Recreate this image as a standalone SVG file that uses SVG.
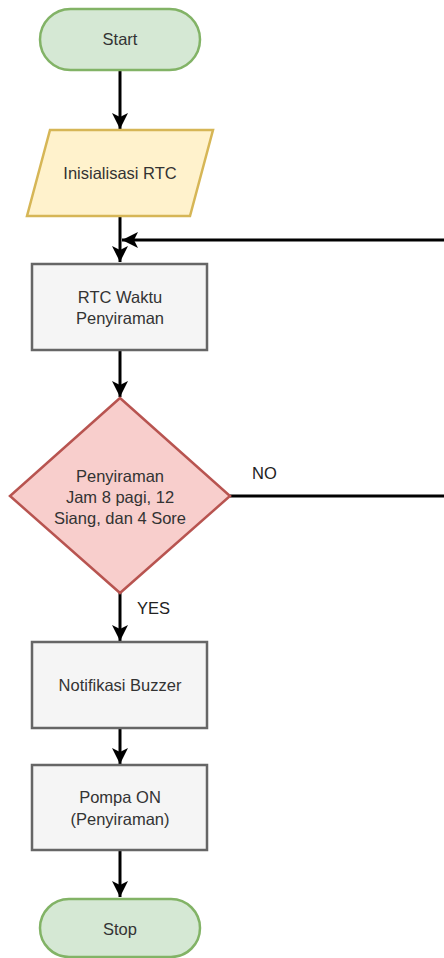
<svg xmlns="http://www.w3.org/2000/svg" width="444" height="958" viewBox="0 0 444 958">
<style>
text{font-family:"Liberation Sans",Arial,sans-serif;font-size:16.5px;fill:#333333;text-anchor:middle}
.term{fill:#d5e8d4;stroke:#82b366;stroke-width:2.5}
.io{fill:#fff2cc;stroke:#d6b656;stroke-width:2.5}
.proc{fill:#f5f5f5;stroke:#666666;stroke-width:2.5}
.dec{fill:#f8cecc;stroke:#b85450;stroke-width:2.5}
.edge{fill:none;stroke:#000000;stroke-width:3}
.lbl{fill:#222222;text-anchor:start}
</style>
<defs>
<marker id="arr" markerUnits="userSpaceOnUse" markerWidth="18" markerHeight="18" refX="16" refY="8" orient="auto" viewBox="0 0 18 16">
<path d="M0,0 L16,8 L0,16 L4,8 z" fill="#000000"/>
</marker>
</defs>
<g id="connectors">
<line class="edge" x1="120" y1="71" x2="120" y2="129" marker-end="url(#arr)"/>
<line class="edge" x1="120" y1="216" x2="120" y2="262" marker-end="url(#arr)"/>
<line class="edge" x1="120" y1="350" x2="120" y2="397" marker-end="url(#arr)"/>
<polyline class="edge" points="230,496 444,496"/>
<line class="edge" x1="444" y1="240" x2="122" y2="240" marker-end="url(#arr)"/>
<line class="edge" x1="120" y1="593" x2="120" y2="641" marker-end="url(#arr)"/>
<line class="edge" x1="120" y1="728" x2="120" y2="764" marker-end="url(#arr)"/>
<line class="edge" x1="120" y1="850" x2="120" y2="897" marker-end="url(#arr)"/>
<text class="lbl" x="252" y="479">NO</text>
<text class="lbl" x="137" y="614">YES</text>
</g>
<g id="start">
<rect class="term" x="40" y="9" width="160" height="61" rx="30.5" ry="30.5"/>
<text x="120" y="45">Start</text>
</g>
<g id="init">
<polygon class="io" points="50,130 213,130 190,216 27,216"/>
<text x="120" y="179">Inisialisasi RTC</text>
</g>
<g id="rtc">
<rect class="proc" x="32" y="264" width="175" height="86"/>
<text x="120" y="303">RTC Waktu</text>
<text x="120" y="324">Penyiraman</text>
</g>
<g id="decision">
<polygon class="dec" points="120,398 230,496 120,593 10,496"/>
<text x="120" y="482">Penyiraman</text>
<text x="120" y="503">Jam 8 pagi, 12</text>
<text x="120" y="524">Siang, dan 4 Sore</text>
</g>
<g id="buzzer">
<rect class="proc" x="32" y="642" width="175" height="86"/>
<text x="120" y="691">Notifikasi Buzzer</text>
</g>
<g id="pompa">
<rect class="proc" x="32" y="765" width="175" height="85"/>
<text x="120" y="803">Pompa ON</text>
<text x="120" y="825">(Penyiraman)</text>
</g>
<g id="stop">
<rect class="term" x="40" y="899" width="160" height="58" rx="29" ry="29"/>
<text x="120" y="935">Stop</text>
</g>
</svg>
